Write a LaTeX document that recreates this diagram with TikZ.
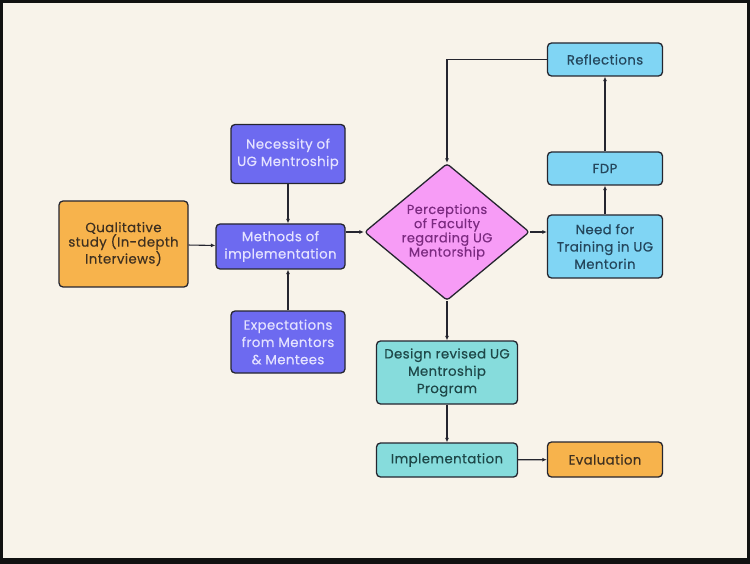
\documentclass[tikz,border=0pt]{standalone}
\usepackage{fontspec}
\setmainfont{Poppins}[LetterSpace=3,FakeBold=0.4]
\usepackage{tikz}
\usetikzlibrary{shapes.geometric,arrows.meta,positioning}
\definecolor{frame}{HTML}{111111}
\definecolor{cream}{HTML}{F8F3EA}
\definecolor{ink}{HTML}{25252F}
\definecolor{mentorpurple}{HTML}{6D6AF0}
\definecolor{mentorpurpletext}{HTML}{E4E2FF}
\definecolor{studyorange}{HTML}{F7B34C}
\definecolor{studyorangetext}{HTML}{3E3020}
\definecolor{trainingblue}{HTML}{80D5F4}
\definecolor{trainingbluetext}{HTML}{24465C}
\definecolor{programteal}{HTML}{86DCDC}
\definecolor{programtealtext}{HTML}{1E4748}
\definecolor{perceptionpink}{HTML}{F79CF6}
\definecolor{perceptionpinktext}{HTML}{7B2A80}

\begin{document}
\begin{tikzpicture}[x=1pt,y=-1pt,font=\fontsize{13.3}{17.3}\selectfont,box/.style={draw=ink,line width=1.3pt,rounded corners=4pt,align=center,inner sep=2pt},link/.style={-{Latex[length=4.5pt,width=4pt]},line width=1.1pt,ink}]
\fill[frame] (0,0) rectangle (750,564);
\fill[cream] (3,3) rectangle (747,558);
\node[box,fill=studyorange,text=studyorangetext,minimum width=129pt,minimum height=86pt,font=\fontsize{13.3}{14.5}\selectfont] (qual) at (123.5,244) {Qualitative\\study (In-depth\\Interviews)};
\node[box,fill=mentorpurple,text=mentorpurpletext,minimum width=114pt,minimum height=59pt] (need) at (288,154) {Necessity of\\UG Mentroship};
\node[box,fill=mentorpurple,text=mentorpurpletext,minimum width=129pt,minimum height=45pt] (methods) at (280.5,246.5) {Methods of\\implementation};
\node[box,fill=mentorpurple,text=mentorpurpletext,minimum width=114pt,minimum height=62pt] (expect) at (288,342) {Expectations\\from Mentors\\\& Mentees};
\node[diamond,draw=ink,line width=1.3pt,rounded corners=3pt,fill=perceptionpink,text=perceptionpinktext,align=center,inner sep=0pt,aspect=1.2,minimum width=165pt,minimum height=137pt,font=\fontsize{13}{14.2}\selectfont] (percep) at (447,232) {Perceptions\\of Faculty\\regarding UG\\Mentorship};
\node[box,fill=trainingblue,text=trainingbluetext,minimum width=115pt,minimum height=33pt] (refl) at (605,59.5) {Reflections};
\node[box,fill=trainingblue,text=trainingbluetext,minimum width=115pt,minimum height=33pt] (fdp) at (605,168.5) {FDP};
\node[box,fill=trainingblue,text=trainingbluetext,minimum width=115pt,minimum height=63pt] (training) at (605,246.5) {Need for\\Training in UG\\Mentorin};
\node[box,fill=programteal,text=programtealtext,minimum width=141pt,minimum height=63pt] (design) at (447,372.5) {Design revised UG\\Mentroship\\Program};
\node[box,fill=programteal,text=programtealtext,minimum width=141pt,minimum height=34pt] (impl) at (447,460) {Implementation};
\node[box,fill=studyorange,text=studyorangetext,minimum width=115pt,minimum height=35pt] (eval) at (605,459.5) {Evaluation};
\draw[link] (qual) -- (methods);
\draw[link] (need.south) -- (need.south |- methods.north);\draw[link] (expect.north) -- (expect.north |- methods.south);
\draw[link] (methods.east |- percep.west) -- (percep.west);
\draw[link] (percep.east) -- (percep.east -| training.west);
\draw[link] (training) -- (fdp);\draw[link] (fdp) -- (refl);
\draw[link] (refl.west) -| (percep.north);
\draw[link] (percep) -- (design);\draw[link] (design) -- (impl);\draw[link] (impl) -- (eval);
\end{tikzpicture}
\end{document}
